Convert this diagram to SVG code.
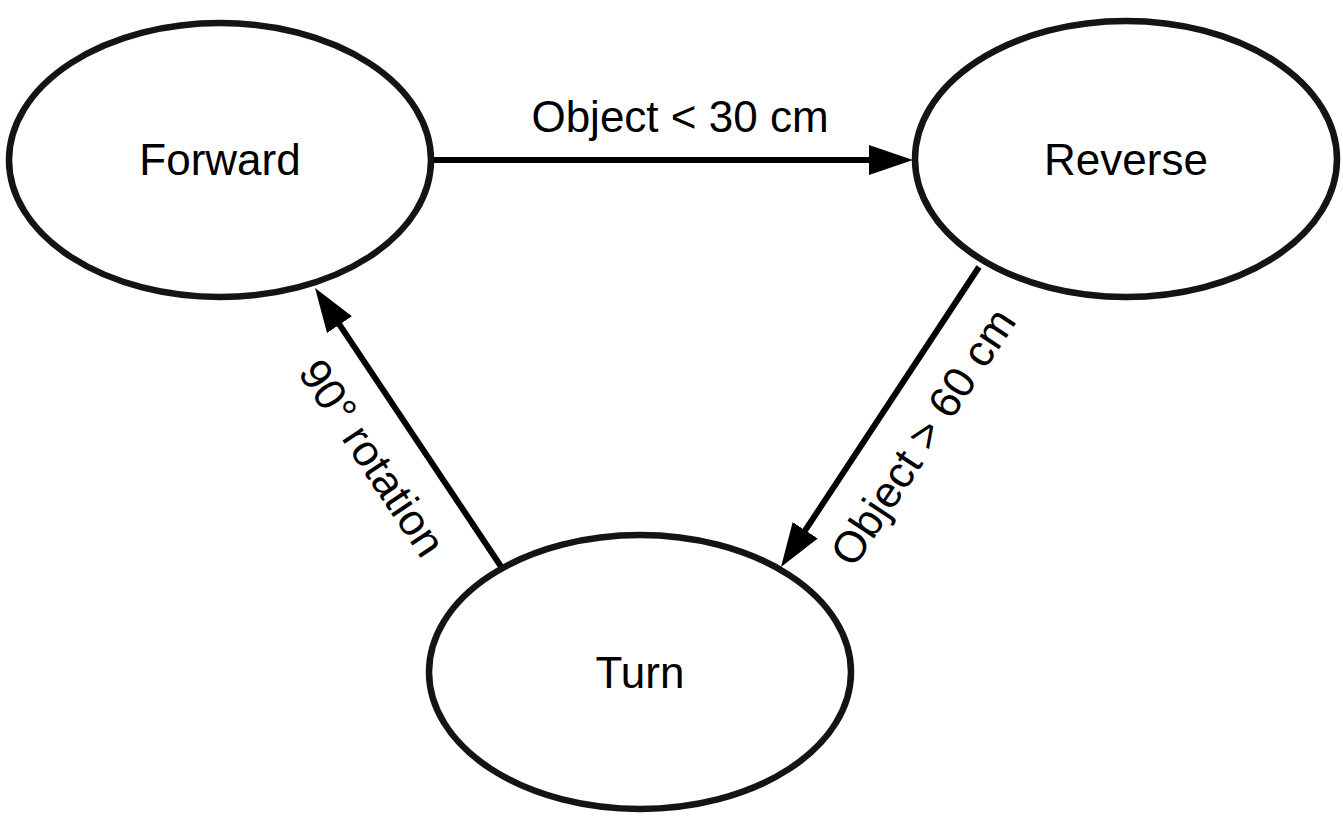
<svg xmlns="http://www.w3.org/2000/svg" width="1343" height="822" viewBox="0 0 1343 822">
  <style>
    .node { fill: #ffffff; stroke: #141414; stroke-width: 6.5; }
    .label { font-family: "Liberation Sans", Arial, sans-serif; font-size: 44px; fill: #000000; text-anchor: middle; }
    .edge { fill: none; stroke: #000000; stroke-width: 6; }
  </style>
  <defs>
    <marker id="arrow" viewBox="0 0 44 30" refX="34" refY="15" markerWidth="44" markerHeight="30" markerUnits="userSpaceOnUse" orient="auto">
      <path d="M0,0 L44,15 L0,30 z" fill="#000000"/>
    </marker>
  </defs>
  <rect width="1343" height="822" fill="#ffffff"/>
  <g id="connectors">
    <g id="edge-forward-reverse">
      <line class="edge" x1="432" y1="160" x2="903" y2="160" marker-end="url(#arrow)"/>
      <text class="label" x="680" y="132">Object &lt; 30 cm</text>
    </g>
    <g id="edge-reverse-turn">
      <line class="edge" x1="979" y1="267" x2="786.5" y2="558.7" marker-end="url(#arrow)"/>
      <text class="label" transform="translate(923,437) rotate(-56.6)" x="0" y="15">Object &gt; 60 cm</text>
    </g>
    <g id="edge-turn-forward">
      <line class="edge" x1="502" y1="568" x2="320.6" y2="296.3" marker-end="url(#arrow)"/>
      <text class="label" transform="translate(372,458) rotate(56.3)" x="0" y="15">90° rotation</text>
    </g>
  </g>
  <g id="node-forward">
    <ellipse class="node" cx="220" cy="160" rx="211" ry="137"/>
    <text class="label" x="220" y="175">Forward</text>
  </g>
  <g id="node-reverse">
    <ellipse class="node" cx="1126" cy="159" rx="211" ry="138"/>
    <text class="label" x="1126" y="175">Reverse</text>
  </g>
  <g id="node-turn">
    <ellipse class="node" cx="640" cy="672" rx="211" ry="137"/>
    <text class="label" x="640" y="688">Turn</text>
  </g>
</svg>
